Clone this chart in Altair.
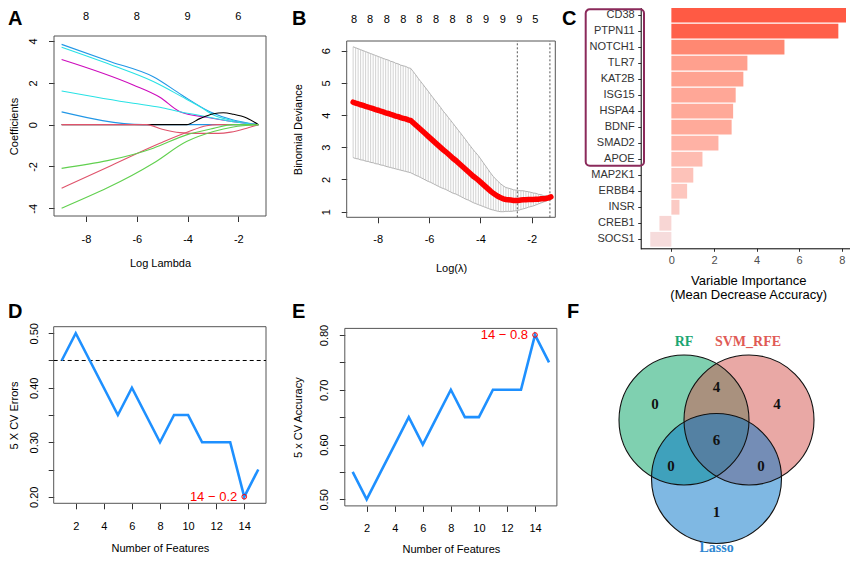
import altair as alt
import pandas as pd

W, H = 842, 547
SANS = "Liberation Sans"
SERIF = "Liberation Serif"
ONE = pd.DataFrame({"k": [0]})

# ---------------- Panel A: LASSO coefficient paths ----------------
a_ids = ["blue1", "cyan1", "magenta", "cyan2", "blue2", "black", "pink1", "pink2", "green1", "green2"]
a_cols = ["#2297E6", "#28E2E5", "#CD0BBC", "#28E2E5", "#2297E6", "#000000", "#DF536B", "#DF536B", "#61D04F", "#61D04F"]
a_lam = {
    "blue1": [-8.96, -7.0, -5.35, -4.23, -3.12, -2.2, -1.21],
    "cyan1": [-8.96, -7.0, -5.35, -4.23, -3.51, -2.98, -2.2, -1.21],
    "magenta": [-8.96, -6.14, -5.09, -4.3, -3.25, -2.2, -1.21],
    "cyan2": [-8.96, -6.14, -5.09, -4.3, -3.25, -2.2, -1.21],
    "blue2": [-8.96, -5.74, -1.21],
    "black": [-8.96, -4.04, -3.5, -2.98, -2.59, -2.2, -1.67, -1.21],
    "pink1": [-8.96, -5.6, -5.0, -4.3, -3.5, -2.8, -2.3, -1.67, -1.21],
    "pink2": [-8.96, -7.0, -5.09, -4.0, -3.25, -2.8, -1.21],
    "green1": [-8.96, -5.35, -4.04, -2.98, -2.2, -1.21],
    "green2": [-8.96, -5.35, -4.04, -2.98, -2.2, -1.21],
}
a_coef = {
    "blue1": [3.84, 3.00, 2.29, 1.42, 0.62, 0.22, 0.0],
    "cyan1": [3.70, 2.85, 2.06, 1.34, 0.86, 0.46, 0.19, 0.0],
    "magenta": [3.12, 1.90, 1.31, 0.62, 0.35, 0.14, 0.0],
    "cyan2": [1.61, 1.02, 0.83, 0.62, 0.38, 0.14, 0.0],
    "blue2": [0.61, 0.0, 0.0],
    "black": [0.0, 0.0, 0.30, 0.52, 0.57, 0.50, 0.32, 0.0],
    "pink1": [0.0, 0.0, -0.22, -0.38, -0.42, -0.42, -0.36, -0.17, 0.0],
    "pink2": [-3.04, -1.95, -0.89, -0.35, -0.05, 0.0, 0.0],
    "green1": [-2.09, -1.13, -0.49, -0.18, 0.0, 0.0],
    "green2": [-4.0, -1.85, -0.81, -0.33, -0.11, 0.0],
}
a_top_pos = [-8, -6, -4, -2]
a_top_lab = ["8", "8", "9", "6"]
a_xticks = [-8, -6, -4, -2]
a_yticks = [-4, -2, 0, 2, 4]
A_DOM_X = [-9.26, -0.91]
A_DOM_Y = [-4.37, 4.24]

# ---------------- Panel B: cross-validated binomial deviance ----------------
b_lam = [-8.960, -8.862, -8.765, -8.667, -8.570, -8.472, -8.374, -8.277, -8.179, -8.082,
         -7.984, -7.886, -7.789, -7.691, -7.594, -7.496, -7.398, -7.301, -7.203, -7.106,
         -7.008, -6.910, -6.813, -6.715, -6.618, -6.520, -6.422, -6.325, -6.227, -6.130,
         -6.032, -5.934, -5.837, -5.739, -5.642, -5.544, -5.446, -5.349, -5.251, -5.154,
         -5.056, -4.958, -4.861, -4.763, -4.666, -4.568, -4.470, -4.373, -4.275, -4.178,
         -4.080, -3.982, -3.885, -3.787, -3.690, -3.592, -3.494, -3.397, -3.299, -3.202,
         -3.104, -3.006, -2.909, -2.811, -2.714, -2.616, -2.518, -2.421, -2.323, -2.226,
         -2.128, -2.030, -1.933, -1.835, -1.738, -1.640, -1.542, -1.445, -1.347, -1.250]
b_mean = [4.40, 4.37, 4.35, 4.32, 4.30, 4.27, 4.25, 4.22, 4.20, 4.17,
          4.15, 4.12, 4.10, 4.07, 4.05, 4.02, 4.00, 3.97, 3.95, 3.92,
          3.90, 3.88, 3.85, 3.83, 3.76, 3.69, 3.62, 3.55, 3.48, 3.41,
          3.34, 3.27, 3.20, 3.13, 3.06, 2.99, 2.92, 2.86, 2.79, 2.72,
          2.65, 2.59, 2.52, 2.45, 2.38, 2.31, 2.24, 2.17, 2.10, 2.04,
          1.98, 1.91, 1.84, 1.77, 1.70, 1.63, 1.57, 1.52, 1.47, 1.43,
          1.40, 1.38, 1.37, 1.36, 1.35, 1.35, 1.35, 1.36, 1.37, 1.37,
          1.38, 1.38, 1.38, 1.39, 1.39, 1.40, 1.40, 1.41, 1.43, 1.46]
b_se = [1.72, 1.72, 1.71, 1.71, 1.70, 1.70, 1.69, 1.69, 1.68, 1.68,
        1.67, 1.67, 1.66, 1.66, 1.66, 1.65, 1.65, 1.64, 1.64, 1.63,
        1.63, 1.63, 1.62, 1.62, 1.59, 1.56, 1.52, 1.49, 1.46, 1.43,
        1.40, 1.36, 1.33, 1.30, 1.27, 1.24, 1.20, 1.17, 1.14, 1.11,
        1.08, 1.04, 1.01, 0.98, 0.95, 0.92, 0.88, 0.85, 0.82, 0.79,
        0.76, 0.72, 0.68, 0.64, 0.60, 0.56, 0.52, 0.49, 0.46, 0.43,
        0.40, 0.37, 0.36, 0.35, 0.33, 0.32, 0.31, 0.29, 0.28, 0.26,
        0.24, 0.22, 0.20, 0.18, 0.15, 0.13, 0.10, 0.08, 0.06, 0.04]
b_top_pos = [-8.92, -8.30, -7.65, -7.00, -6.38, -5.73, -5.08, -4.43, -3.78, -3.13, -2.48, -1.86]
b_top_lab = ["8", "8", "8", "8", "8", "8", "8", "8", "9", "9", "9", "5"]
b_vlines = [-2.56, -1.29]
b_xticks = [-8, -6, -4, -2]
b_yticks = [1, 2, 3, 4, 5, 6]
B_DOM_X = [-9.21, -1.08]
B_DOM_Y = [0.826, 6.30]

# ---------------- Panel C: random forest importance ----------------
c_genes = ["CD38", "PTPN11", "NOTCH1", "TLR7", "KAT2B", "ISG15", "HSPA4", "BDNF",
           "SMAD2", "APOE", "MAP2K1", "ERBB4", "INSR", "CREB1", "SOCS1"]
c_imp = [8.20, 7.84, 5.31, 3.57, 3.38, 3.02, 2.90, 2.83, 2.21, 1.46, 1.03, 0.74, 0.38, -0.56, -0.99]
c_xticks = [0, 2, 4, 6, 8]
C_DOM_X = [-1.44, 8.66]

# ---------------- Panel D / E: SVM-RFE ----------------
d_n = [1, 2, 3, 4, 5, 6, 7, 8, 9, 10, 11, 12, 13, 14, 15]
d_err = [0.45, 0.50, 0.45, 0.40, 0.35, 0.40, 0.35, 0.30, 0.35, 0.35, 0.30, 0.30, 0.30, 0.20, 0.25]
d_ref = 0.45
d_yticks = [0.20, 0.25, 0.30, 0.35, 0.40, 0.45, 0.50]
D_DOM_X = [0.43, 15.55]
D_DOM_Y = [0.188, 0.512]

e_n = [1, 2, 3, 4, 5, 6, 7, 8, 9, 10, 11, 12, 13, 14, 15]
e_acc = [0.55, 0.50, 0.55, 0.60, 0.65, 0.60, 0.65, 0.70, 0.65, 0.65, 0.70, 0.70, 0.70, 0.80, 0.75]
e_yticks = [0.50, 0.55, 0.60, 0.65, 0.70, 0.75, 0.80]
E_DOM_X = [0.44, 15.56]
E_DOM_Y = [0.488, 0.812]
de_xticks = [2, 4, 6, 8, 10, 12, 14]

# ---------------- Panel F: Venn diagram ----------------
f_sets = ["RF", "SVM_RFE", "Lasso"]
f_cx = [-0.5, 0.5, 0.0]
f_cy = [0.3, 0.3, -0.6]
f_fill = ["#00A161", "#D3514B", "#0071C7"]
f_lab_x = [-0.5, 0.485, 0.0]
f_lab_y = [1.5, 1.5, -1.67]
f_lab_col = ["#1CA672", "#E05A55", "#2E86D1"]
f_cnt = [0, 4, 4, 6, 0, 0, 1]
f_cnt_x = [-0.946, 0.0, 0.93, 0.0, -0.70, 0.685, 0.0]
f_cnt_y = [0.546, 0.81, 0.546, -0.008, -0.41, -0.41, -1.115]

# R prints negative tick labels with a plain hyphen
HYPHEN = "datum.value < 0 ? '-' + format(-datum.value, 'd') : format(datum.value, 'd')"


def r_xaxis(values, offset, pad, title, title_y, **kw):
    return alt.Axis(orient="bottom", offset=offset, values=values, title=title,
                    titleY=title_y, titleBaseline="middle", titleFont=SANS,
                    titleFontSize=11, titleFontWeight="normal", titleColor="black",
                    labelFont=SANS, labelFontSize=11, labelColor="black",
                    labelPadding=pad, labelFlush=False, labelOverlap=False,
                    tickSize=5.5, tickColor="#333333", tickWidth=1,
                    domain=False, grid=False, **kw)


def r_yaxis(values, offset, pad, title, title_x, **kw):
    return alt.Axis(orient="left", offset=offset, values=values, title=title,
                    titleX=title_x, titleAngle=270, titleAlign="center", titleBaseline="middle",
                    titleFont=SANS, titleFontSize=11, titleFontWeight="normal", titleColor="black",
                    labelFont=SANS, labelFontSize=11, labelColor="black",
                    labelAngle=270, labelAlign="center", labelBaseline="bottom",
                    labelPadding=pad, labelFlush=False, labelOverlap=False,
                    tickSize=5.5, tickColor="#333333", tickWidth=1,
                    domain=False, grid=False, **kw)


def lin(dom, rng):
    return alt.Scale(domain=dom, range=rng, zero=False, nice=False)


def frame(dx, dy, rx, ry):
    return alt.Chart(ONE).mark_rect(fill="white", fillOpacity=0, stroke="#555555", strokeWidth=1).encode(
        x=alt.XDatum(datum=dx[0], type="quantitative", scale=lin(dx, rx), axis=None),
        x2=alt.X2Datum(datum=dx[1]),
        y=alt.YDatum(datum=dy[0], type="quantitative", scale=lin(dy, ry), axis=None),
        y2=alt.Y2Datum(datum=dy[1]),
    )


layers = []

# ======== Panel A ========
RA_X, RA_Y = [46, 258], [208, 28]
rows = []
for i, c in zip(a_ids, a_cols):
    for l, v in zip(a_lam[i], a_coef[i]):
        rows.append({"id": i, "col": c, "lam": l, "coef": v})
dfA = pd.DataFrame(rows)
layers.append(frame(A_DOM_X, A_DOM_Y, RA_X, RA_Y))
layers.append(alt.Chart(dfA).mark_line(strokeWidth=1.1, interpolate="monotone").encode(
    x=alt.X("lam:Q", scale=lin(A_DOM_X, RA_X),
            axis=r_xaxis(a_xticks, RA_Y[0] - H, 12, "Log Lambda", 47.3, labelExpr=HYPHEN)),
    y=alt.Y("coef:Q", scale=lin(A_DOM_Y, RA_Y),
            axis=r_yaxis(a_yticks, -RA_X[0], 9.6, "Coefficients", -39.5, labelExpr=HYPHEN)),
    color=alt.Color("col:N", scale=None),
    detail="id:N",
))
layers.append(alt.Chart(pd.DataFrame({"pos": a_top_pos, "lab": a_top_lab})).mark_text(
    font=SANS, fontSize=11, baseline="middle", color="black").encode(
    x=alt.X("pos:Q", scale=lin(A_DOM_X, RA_X), axis=None), y=alt.value(9.3), text="lab:N"))

# ======== Panel B ========
RB_X, RB_Y = [338.7, 547.3], [209.3, 33]
dfB = pd.DataFrame({"lam": b_lam, "mean": b_mean, "se": b_se})
dfB["lo"] = dfB["mean"] - dfB["se"]
dfB["hi"] = dfB["mean"] + dfB["se"]
layers.append(alt.Chart(dfB).mark_rule(color="#D2D2D2", strokeWidth=1).encode(
    x=alt.X("lam:Q", scale=lin(B_DOM_X, RB_X), axis=None),
    y=alt.Y("lo:Q", scale=lin(B_DOM_Y, RB_Y), axis=None), y2="hi:Q"))
for col in ["hi", "lo"]:
    layers.append(alt.Chart(dfB).mark_line(color="#B4B4B4", strokeWidth=1).encode(
        x=alt.X("lam:Q", scale=lin(B_DOM_X, RB_X), axis=None),
        y=alt.Y(f"{col}:Q", scale=lin(B_DOM_Y, RB_Y), axis=None)))
layers.append(alt.Chart(pd.DataFrame({"v": b_vlines})).mark_rule(
    color="#555555", strokeWidth=1, strokeDash=[2, 2]).encode(
    x=alt.X("v:Q", scale=lin(B_DOM_X, RB_X), axis=None),
    y=alt.YDatum(datum=B_DOM_Y[0], type="quantitative", scale=lin(B_DOM_Y, RB_Y), axis=None),
    y2=alt.Y2Datum(datum=B_DOM_Y[1])))
layers.append(alt.Chart(dfB).mark_line(color="#FF0000", strokeWidth=5.5, strokeCap="round").encode(
    x=alt.X("lam:Q", scale=lin(B_DOM_X, RB_X),
            axis=r_xaxis(b_xticks, RB_Y[0] - H, 10.7, "Log(λ)", 51, labelExpr=HYPHEN)),
    y=alt.Y("mean:Q", scale=lin(B_DOM_Y, RB_Y),
            axis=r_yaxis(b_yticks, -RB_X[0], 10, "Binomial Deviance", -48.4))))
layers.append(alt.Chart(pd.DataFrame({"pos": b_top_pos, "lab": b_top_lab})).mark_text(
    font=SANS, fontSize=11, baseline="middle", color="black").encode(
    x=alt.X("pos:Q", scale=lin(B_DOM_X, RB_X), axis=None), y=alt.value(12), text="lab:N"))
layers.append(frame(B_DOM_X, B_DOM_Y, RB_X, RB_Y))

# ======== Panel C ========
dfC = pd.DataFrame({"gene": c_genes, "imp": c_imp})
yC = alt.Scale(domain=c_genes, range=[-2.6, 240.9], paddingInner=0.08, paddingOuter=0.14)
layers.append(alt.Chart(dfC).mark_bar().encode(
    y=alt.Y("gene:N", scale=yC, axis=alt.Axis(
        orient="left", offset=-632.7, title=None, labelFont=SANS, labelFontSize=11,
        labelColor="#333333", labelPadding=3.5, tickSize=3, tickColor="#333333",
        domain=True, domainColor="black", domainWidth=1, grid=False)),
    x=alt.X("imp:Q", scale=lin(C_DOM_X, [632.7, 847.8]), axis=alt.Axis(
        orient="bottom", offset=240.3 - H, values=c_xticks,
        title=["Variable Importance", "(Mean Decrease Accuracy)"],
        titleY=32, titleBaseline="middle", titleFont=SANS, titleFontSize=13,
        titleFontWeight="normal", titleColor="black", titleLineHeight=14.5,
        labelFont=SANS, labelFontSize=11, labelColor="#4D4D4D", labelPadding=3.2,
        labelFlush=False, tickSize=3, tickColor="#333333",
        domain=True, domainColor="black", domainWidth=1, grid=False)),
    x2=alt.X2Datum(datum=0),
    color=alt.Color("imp:Q", scale=alt.Scale(domain=[-1.0, 8.2], range=["#F6DCDC", "#FF5A44"],
                                             interpolate="lab"), legend=None),
))
layers.append(alt.Chart(ONE).mark_rect(fill="white", fillOpacity=0, stroke="#8B2A5B", strokeWidth=2,
                                       cornerRadius=4).encode(
    x=alt.value(577.7), x2=alt.value(636), y=alt.value(1.3), y2=alt.value(157.7)))

# ======== Panel D ========
RD_X, RD_Y = [45.7, 258], [495.3, 318.7]
lab_expr = "round(datum.value*100) % 10 == 0 ? format(datum.value, '.2f') : ''"
dfD = pd.DataFrame({"n": d_n, "err": d_err})
layers.append(frame(D_DOM_X, D_DOM_Y, RD_X, RD_Y))
layers.append(alt.Chart(ONE).mark_rule(color="black", strokeWidth=1, strokeDash=[4, 3]).encode(
    x=alt.XDatum(datum=D_DOM_X[0], type="quantitative", scale=lin(D_DOM_X, RD_X), axis=None),
    x2=alt.X2Datum(datum=D_DOM_X[1]),
    y=alt.YDatum(datum=d_ref, type="quantitative", scale=lin(D_DOM_Y, RD_Y), axis=None)))
layers.append(alt.Chart(dfD).mark_line(color="#1E90FF", strokeWidth=2.6).encode(
    x=alt.X("n:Q", scale=lin(D_DOM_X, RD_X),
            axis=r_xaxis(de_xticks, RD_Y[0] - H, 11.4, "Number of Features", 45)),
    y=alt.Y("err:Q", scale=lin(D_DOM_Y, RD_Y),
            axis=r_yaxis(d_yticks, -RD_X[0], 8.7, "5 X CV Errors", -39.2, labelExpr=lab_expr))))
d_best = dfD.loc[[dfD["err"].idxmin()]].copy()
d_best["lab"] = d_best.apply(lambda r: f"{int(r.n)} − {r.err:g}", axis=1)
layers.append(alt.Chart(d_best).mark_point(shape="circle", filled=False, color="#FF0000", size=22,
                                           strokeWidth=1, opacity=1).encode(
    x=alt.X("n:Q", scale=lin(D_DOM_X, RD_X), axis=None),
    y=alt.Y("err:Q", scale=lin(D_DOM_Y, RD_Y), axis=None)))
layers.append(alt.Chart(d_best).mark_text(font=SANS, fontSize=13, color="#FF0000", align="right",
                                          baseline="middle", dx=-7).encode(
    x=alt.X("n:Q", scale=lin(D_DOM_X, RD_X), axis=None),
    y=alt.Y("err:Q", scale=lin(D_DOM_Y, RD_Y), axis=None), text="lab:N"))

# ======== Panel E ========
RE_X, RE_Y = [336.8, 548.9], [497.9, 320.4]
dfE = pd.DataFrame({"n": e_n, "acc": e_acc})
layers.append(frame(E_DOM_X, E_DOM_Y, RE_X, RE_Y))
layers.append(alt.Chart(dfE).mark_line(color="#1E90FF", strokeWidth=2.6).encode(
    x=alt.X("n:Q", scale=lin(E_DOM_X, RE_X),
            axis=r_xaxis(de_xticks, RE_Y[0] - H, 11.1, "Number of Features", 43.5)),
    y=alt.Y("acc:Q", scale=lin(E_DOM_Y, RE_Y),
            axis=r_yaxis(e_yticks, -RE_X[0], 9.8, "5 x CV Accuracy", -46.5, labelExpr=lab_expr))))
e_best = dfE.loc[[dfE["acc"].idxmax()]].copy()
e_best["lab"] = e_best.apply(lambda r: f"{int(r.n)} − {r.acc:g}", axis=1)
layers.append(alt.Chart(e_best).mark_point(shape="circle", filled=False, color="#FF0000", size=22,
                                           strokeWidth=1, opacity=1).encode(
    x=alt.X("n:Q", scale=lin(E_DOM_X, RE_X), axis=None),
    y=alt.Y("acc:Q", scale=lin(E_DOM_Y, RE_Y), axis=None)))
layers.append(alt.Chart(e_best).mark_text(font=SANS, fontSize=13, color="#FF0000", align="right",
                                          baseline="middle", dx=-7).encode(
    x=alt.X("n:Q", scale=lin(E_DOM_X, RE_X), axis=None),
    y=alt.Y("acc:Q", scale=lin(E_DOM_Y, RE_Y), axis=None), text="lab:N"))

# ======== Panel F ========
F_DOM = [-2, 2]
RF_X, RF_Y = [578.5, 838.5], [561.5, 301.5]
dfF = pd.DataFrame({"set": f_sets, "cx": f_cx, "cy": f_cy, "fill": f_fill})
layers.append(alt.Chart(dfF).mark_point(shape="circle", filled=True, size=16900, opacity=1,
                                        fillOpacity=0.5, strokeWidth=0).encode(
    x=alt.X("cx:Q", scale=lin(F_DOM, RF_X), axis=None), y=alt.Y("cy:Q", scale=lin(F_DOM, RF_Y), axis=None),
    color=alt.Color("fill:N", scale=None)))
layers.append(alt.Chart(dfF).mark_point(shape="circle", filled=False, size=16900, opacity=1,
                                        color="#111111", strokeWidth=1.1).encode(
    x=alt.X("cx:Q", scale=lin(F_DOM, RF_X), axis=None), y=alt.Y("cy:Q", scale=lin(F_DOM, RF_Y), axis=None)))
layers.append(alt.Chart(pd.DataFrame({"lab": f_sets, "x": f_lab_x, "y": f_lab_y, "col": f_lab_col})).mark_text(
    font=SERIF, fontSize=14, fontWeight="bold", baseline="middle").encode(
    x=alt.X("x:Q", scale=lin(F_DOM, RF_X), axis=None), y=alt.Y("y:Q", scale=lin(F_DOM, RF_Y), axis=None),
    text="lab:N", color=alt.Color("col:N", scale=None)))
layers.append(alt.Chart(pd.DataFrame({"c": f_cnt, "x": f_cnt_x, "y": f_cnt_y})).mark_text(
    font=SERIF, fontSize=15, fontWeight="bold", baseline="middle", color="#111111").encode(
    x=alt.X("x:Q", scale=lin(F_DOM, RF_X), axis=None), y=alt.Y("y:Q", scale=lin(F_DOM, RF_Y), axis=None),
    text="c:N"))


# ======== Panel letters ========
def letter(t, px, py):
    return alt.Chart(ONE).mark_text(text=t, font=SANS, fontSize=20, fontWeight="bold",
                                    align="left", baseline="alphabetic", color="black").encode(
        x=alt.value(px), y=alt.value(py))


for t, px, py in [("A", 0, 16.5), ("B", 284, 16.5), ("C", 554, 16.5),
                  ("D", 0, 310), ("E", 284, 310), ("F", 559, 310)]:
    layers.append(letter(t, px, py))

chart = alt.layer(*layers).resolve_scale(
    x="independent", y="independent", color="independent"
).properties(
    width=W, height=H, autosize=alt.AutoSizeParams(type="none"), padding=0
).configure_view(strokeWidth=0)

chart.save("out.html", embed_options={"renderer": "svg", "actions": False})
